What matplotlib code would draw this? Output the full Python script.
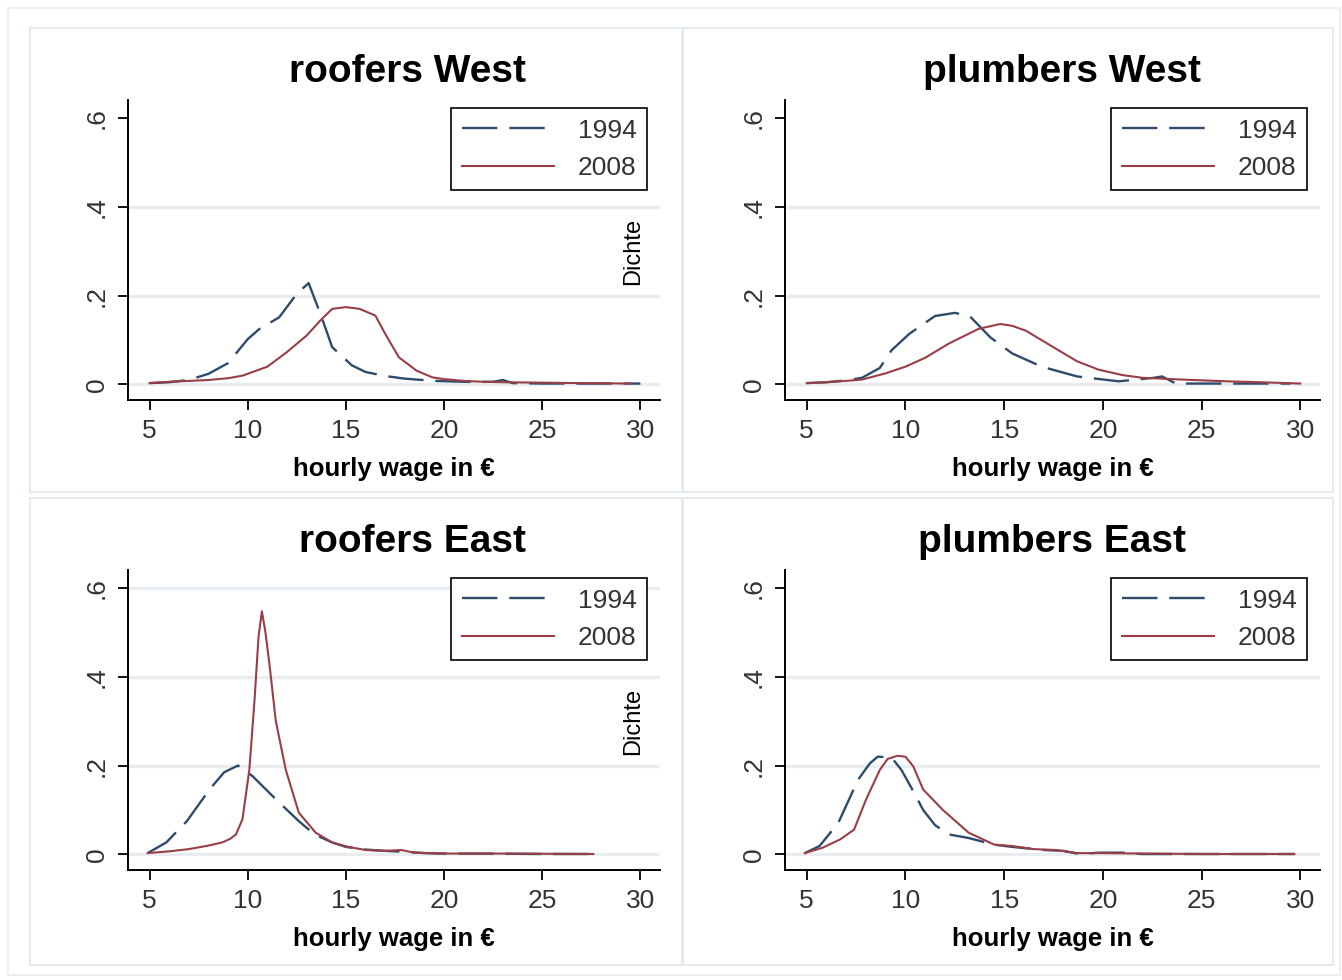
import matplotlib
matplotlib.use('Agg')
import matplotlib.pyplot as plt
from matplotlib.patches import Rectangle

plt.rcParams['font.family'] = ['Liberation Sans', 'DejaVu Sans']

# kernel density of hourly wages
rw_x94 = [5, 6, 7, 8, 9, 10, 10.6, 11.6, 12.5, 13.1, 13.7, 14.3, 15.3, 16, 17, 18, 19.5, 21, 22.5, 23, 23.5, 25, 27, 30]
rw_y94 = [0.003, 0.005, 0.01, 0.024, 0.048, 0.102, 0.125, 0.151, 0.204, 0.228, 0.159, 0.084, 0.043, 0.028, 0.019, 0.013, 0.008, 0.006, 0.006, 0.01, 0.003, 0.002, 0.002, 0.002]
rw_x08 = [5, 6, 7, 8, 9, 9.75, 10.5, 11, 12, 13, 13.7, 14.3, 15, 15.7, 16.5, 17, 17.7, 18.6, 19.4, 20, 21, 22, 23, 25, 27, 29.5]
rw_y08 = [0.003, 0.006, 0.008, 0.01, 0.014, 0.02, 0.032, 0.04, 0.073, 0.11, 0.144, 0.17, 0.174, 0.17, 0.155, 0.114, 0.061, 0.031, 0.016, 0.012, 0.008, 0.006, 0.005, 0.004, 0.003, 0.002]

pw_x94 = [5, 6, 7, 7.8, 8.7, 9.3, 10.2, 11.5, 12.5, 13.25, 14.3, 15.4, 16.9, 18.7, 20.8, 22.6, 23, 23.7, 25, 27, 29.5]
pw_y94 = [0.003, 0.005, 0.009, 0.015, 0.037, 0.077, 0.114, 0.154, 0.161, 0.154, 0.106, 0.07, 0.04, 0.018, 0.007, 0.015, 0.018, 0.002, 0.002, 0.002, 0.002]
pw_x08 = [5, 6, 7, 7.8, 9, 10, 11, 12.2, 13.7, 14.8, 15.4, 16.1, 17.6, 18.7, 19.8, 21, 22, 24, 26.3, 28, 30]
pw_y08 = [0.003, 0.005, 0.008, 0.011, 0.025, 0.04, 0.06, 0.092, 0.125, 0.136, 0.132, 0.121, 0.081, 0.052, 0.033, 0.021, 0.015, 0.011, 0.007, 0.005, 0.002]

re_x94 = [4.9, 5.85, 6.9, 8.05, 8.8, 9.5, 10.25, 11, 11.6, 12.6, 13.4, 14.3, 15, 16, 17, 18, 19, 20, 22, 25, 27.6]
re_y94 = [0.003, 0.027, 0.075, 0.146, 0.185, 0.2, 0.176, 0.143, 0.117, 0.075, 0.045, 0.027, 0.017, 0.011, 0.008, 0.006, 0.003, 0.002, 0.002, 0.001, 0.001]
re_x08 = [4.9, 6, 7, 7.5, 8, 8.7, 9.1, 9.4, 9.73, 10.08, 10.35, 10.55, 10.72, 10.9, 11.1, 11.43, 11.94, 12.6, 13.46, 14.3, 15, 16, 17, 17.8, 18.5, 20, 23, 27.6]
re_y08 = [0.003, 0.007, 0.012, 0.016, 0.02, 0.027, 0.035, 0.045, 0.079, 0.19, 0.35, 0.49, 0.547, 0.5, 0.43, 0.30, 0.19, 0.094, 0.049, 0.027, 0.018, 0.01, 0.008, 0.01, 0.004, 0.002, 0.002, 0.001]

pe_x94 = [4.9, 5.65, 6.6, 7.6, 8.2, 8.6, 9.3, 9.8, 10.3, 10.9, 11.5, 12.2, 13.2, 14.5, 15.4, 17, 18, 18.8, 19.8, 21, 22, 25, 29.7]
pe_y94 = [0.003, 0.019, 0.071, 0.168, 0.205, 0.22, 0.218, 0.19, 0.15, 0.1, 0.066, 0.045, 0.037, 0.022, 0.017, 0.01, 0.008, 0.001, 0.004, 0.004, 0.001, 0.001, 0.001]
pe_x08 = [4.9, 5.8, 6.7, 7.4, 8.0, 8.7, 9.1, 9.6, 10.0, 10.4, 10.9, 11.9, 13.2, 14.5, 15.4, 16.5, 17.6, 18.7, 20, 22, 25, 29.7]
pe_y08 = [0.003, 0.015, 0.034, 0.056, 0.123, 0.19, 0.215, 0.222, 0.22, 0.198, 0.146, 0.1, 0.049, 0.022, 0.019, 0.012, 0.01, 0.003, 0.003, 0.002, 0.001, 0.001]

titles = ['roofers West', 'plumbers West', 'roofers East', 'plumbers East']
years = ['1994', '2008']
xticks = [5, 10, 15, 20, 25, 30]
yticks = [0, 0.2, 0.4, 0.6]
ytick_labels = ['0', '.2', '.4', '.6']

panels = [
    (rw_x94, rw_y94, rw_x08, rw_y08),
    (pw_x94, pw_y94, pw_x08, pw_y08),
    (re_x94, re_y94, re_x08, re_y08),
    (pe_x94, pe_y94, pe_x08, pe_y08),
]

navy = '#2e4b6c'
maroon = '#9a3e46'
gridc = '#e9edef'

fig = plt.figure(figsize=(13.42, 9.8), dpi=100)
fig.patch.set_facecolor('white')

# panel frames (pixels: left, top, right, bottom)
frames = [(30, 28, 682, 492), (683, 28, 1333, 492), (30, 498, 682, 965), (683, 498, 1333, 965)]
W, H = 1342.0, 980.0
fig.add_artist(Rectangle((8 / W, 1 - 975 / H), 1332 / W, 967 / H, transform=fig.transFigure,
                         fill=False, edgecolor='#eceff1', lw=1.5))
for l, t, r, b in frames:
    fig.add_artist(Rectangle((l / W, 1 - b / H), (r - l) / W, (b - t) / H, transform=fig.transFigure,
                             fill=False, edgecolor='#e6eaec', lw=1.5))

axes_pos = [
    [128 / W, 1 - 400 / H, 532 / W, 300 / H],
    [785 / W, 1 - 400 / H, 535 / W, 300 / H],
    [128 / W, 1 - 870 / H, 532 / W, 300 / H],
    [785 / W, 1 - 870 / H, 535 / W, 300 / H],
]
title_x = [0.526, 0.518, 0.535, 0.499]
grid_levels = [[0, 0.2, 0.4], [0, 0.2, 0.4], [0, 0.2, 0.4, 0.6], [0, 0.2, 0.4]]

for k in range(4):
    ax = fig.add_axes(axes_pos[k])
    x94, y94, x08, y08 = panels[k]
    for g in grid_levels[k]:
        ax.axhline(g, color=gridc, lw=2.5, zorder=0)
    ax.plot(x94, y94, color=navy, lw=1.7, dashes=(15, 5), label=years[0])
    ax.plot(x08, y08, color=maroon, lw=1.5, label=years[1])
    ax.set_xlim(3.9, 31.0)
    ax.set_ylim(-0.035, 0.64)
    ax.set_xticks(xticks)
    ax.set_yticks(yticks)
    ax.set_yticklabels(ytick_labels, rotation=90, va='center')
    for s in ['top', 'right']:
        ax.spines[s].set_visible(False)
    for s in ['left', 'bottom']:
        ax.spines[s].set_linewidth(1.4)
    ax.tick_params(axis='both', direction='out', length=7, width=1.3, labelsize=19, labelcolor='#333333')
    ax.tick_params(axis='y', pad=7)
    ax.tick_params(axis='x', pad=7)
    ax.set_xlabel('hourly wage in €', fontsize=18.5, fontweight='bold', labelpad=10)
    ax.text(title_x[k], 1.095, titles[k], transform=ax.transAxes, ha='center', va='center',
            fontsize=28, fontweight='bold')
    if k % 2 == 0:
        ax.text(0.949, 0.495, 'Dichte', transform=ax.transAxes, rotation=90,
                ha='center', va='center', fontsize=17)
    leg = ax.legend(loc='upper right', bbox_to_anchor=(0.976, 0.973), fontsize=19,
                    handlelength=3.5, handletextpad=0.9, labelspacing=0.5, borderpad=0.4,
                    borderaxespad=0, fancybox=False, framealpha=1, edgecolor='black')
    leg.get_frame().set_linewidth(1.2)
    for t in leg.get_texts():
        t.set_color('#333333')

fig.savefig('out.png', dpi=100)
